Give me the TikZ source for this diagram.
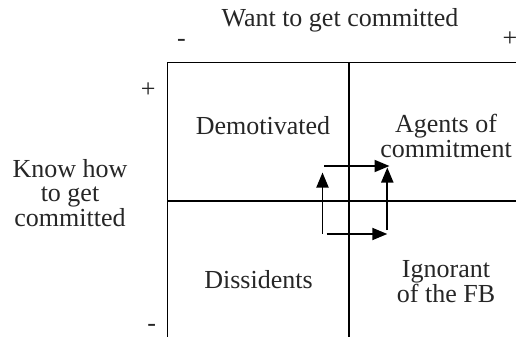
\documentclass[tikz,border=0pt]{standalone}
\usepackage{fontspec}
\setmainfont{Liberation Serif}
\usetikzlibrary{arrows.meta}
\tikzset{
  grid/.style={line width=1.9pt, black},
  flow/.style={line width=1.9pt, black, -{Triangle[length=15pt,width=12pt]}},
  lbl/.style={inner sep=0pt, anchor=base, align=center, font=\fontsize{26}{24.5}\selectfont, text=black!85},
}
\begin{document}
\begin{tikzpicture}[x=1pt,y=-1pt]
\useasboundingbox (0,0) rectangle (516,337);
% frame coordinates
\coordinate (tl) at (167.5,62.5);
\coordinate (tr) at (516,62.5);
\coordinate (bl) at (167.5,337);
\coordinate (tm) at (349,62.5);
\coordinate (bm) at (349,337);
\coordinate (ml) at (167.5,201);
\coordinate (mr) at (516,201);
\draw[grid] (tr) -- (tl) -- (bl);
\draw[grid] (tm) -- (bm);
\draw[grid] (ml) -- (mr);
% arrows
\coordinate (a1s) at (322.5,233.5);
\coordinate (a1e) at (322.5,172.5);
\coordinate (a2s) at (324,166);
\coordinate (a2e) at (389.5,166);
\coordinate (a3s) at (387.3,230);
\coordinate (a3e) at (387.3,167.5);
\coordinate (a4s) at (326.7,234);
\coordinate (a4e) at (387.3,234);
\draw[flow] (a1s) -- (a1e);
\draw[flow] (a2s) -- (a2e);
\draw[flow] (a3s) -- (a3e);
\draw[flow] (a4s) -- (a4e);
% labels
\node[lbl] (want) at (340,27) {Want to get committed};
\node[lbl] (tminus) at (181.5,46.5) {-};
\node[lbl] (tplus) at (510,46.5) {+};
\node[lbl] (lplus) at (148.3,97.5) {+};
\node[lbl] (lminus) at (151.7,331) {-};
\node[lbl] (know) at (70,226) {Know how\\to get\\committed};
\node[lbl] (demo) at (263,134) {Demotivated};
\node[lbl] (agents) at (446,157) {Agents of\\commitment};
\node[lbl] (diss) at (258.5,288) {Dissidents};
\node[lbl] (ign) at (446,302) {Ignorant\\of the FB};
\end{tikzpicture}
\end{document}
